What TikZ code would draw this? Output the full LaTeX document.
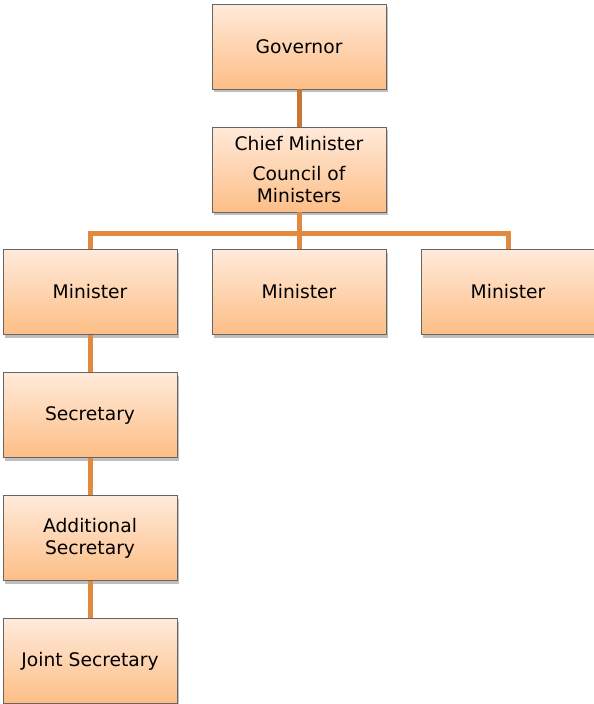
\documentclass[tikz,border=0pt]{standalone}
\usepackage{fontspec}
\setmainfont{DejaVu Sans}
\usepackage{tikz}
\usetikzlibrary{shadows}
\definecolor{orgBoxTop}{HTML}{FFEADA}
\definecolor{orgBoxBottom}{HTML}{FDBE86}
\definecolor{orgLine}{HTML}{E0893F}
\definecolor{orgLineDark}{HTML}{C97634}
\tikzset{
    obox/.style={draw=black!60, line width=0.6pt, top color=orgBoxTop, bottom color=orgBoxBottom, minimum width=174pt, minimum height=85pt, align=center, font=\fontsize{18.7}{22}\selectfont, drop shadow={shadow xshift=2pt, shadow yshift=-3pt, opacity=0.25, fill=black}},
    olink/.style={orgLine, line width=5pt},
    olinkdark/.style={orgLineDark, line width=5pt}
}
\begin{document}
\begin{tikzpicture}[x=1pt, y=1pt]
            \useasboundingbox (0,0) rectangle (594,-704);
            \coordinate (bus) at (299,-233);
            \node[obox] (gov) at (299,-46.5) {Governor};
            \node[obox] (cm) at (299,-169.5) {Chief Minister\\[8pt]Council of\\Ministers};
            \node[obox] (minA) at (90,-292) {Minister};
            \node[obox] (minB) at (299,-292) {Minister};
            \node[obox] (minC) at (508,-292) {Minister};
            \node[obox] (sec) at (90,-415) {Secretary};
            \node[obox] (addl) at (90,-538) {Additional\\Secretary};
            \node[obox] (joint) at (90,-661) {Joint Secretary};
            \draw[olinkdark] (gov.south) -- (cm.north);
            \draw[olink] (cm.south) -- (minB.north);
            \draw[olink] (minA.north) |- (bus) -| (minC.north);
            \draw[olink] (minA.south) -- (sec.north);
            \draw[olink] (sec.south) -- (addl.north);
            \draw[olink] (addl.south) -- (joint.north);
        \end{tikzpicture}
\end{document}
